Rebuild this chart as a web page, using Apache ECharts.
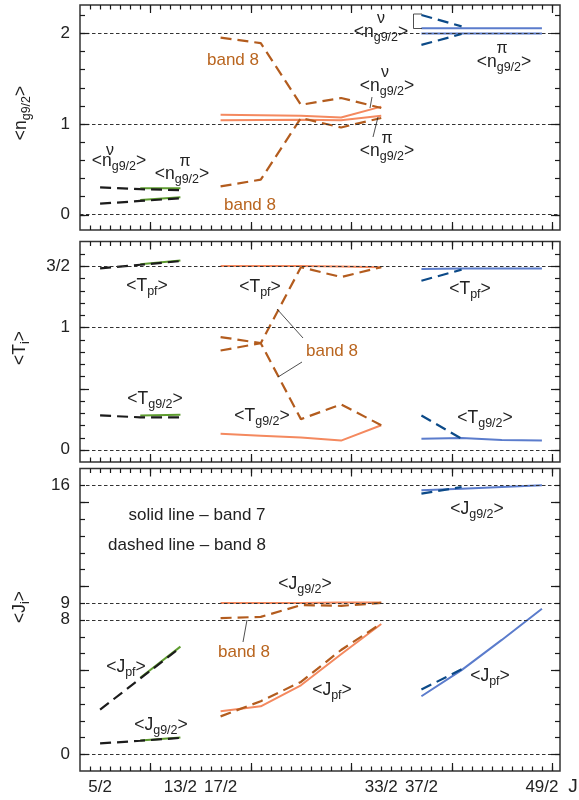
<!DOCTYPE html>
<html>
<head>
<meta charset="utf-8">
<script src="https://cdn.jsdelivr.net/npm/echarts@6/dist/echarts.min.js"></script>
<style>
html, body { margin: 0; padding: 0; background: #fff; }
#chart { width: 579px; height: 800px; }
</style>
</head>
<body>
<div id="chart"></div>
<script>
// spin values J of the three groups of levels
const jvLow = [2.5, 4.5, 6.5];
const jvLow7 = [4.5, 6.5];
const jvMid = [8.5, 10.5, 12.5, 14.5, 16.5];
const jvHigh = [18.5, 20.5, 22.5, 24.5];
const jvHigh8 = [18.5, 20.5];

// <n_g9/2>  (A = nu, B = pi)
const nLowDashA = [0.30, 0.28, 0.27];
const nLowDashB = [0.12, 0.15, 0.18];
const nLowSolidA = [0.29, 0.29];
const nLowSolidB = [0.16, 0.19];
const nMidSolidA = [1.10, 1.095, 1.09, 1.07, 1.19];
const nMidSolidB = [1.04, 1.042, 1.045, 1.04, 1.09];
const nMidDashA = [1.95, 1.89, 1.21, 1.285, 1.175];
const nMidDashB = [0.31, 0.385, 1.065, 0.96, 1.065];
const nHighSolidA = [2.055, 2.055, 2.055, 2.055];
const nHighSolidB = [1.995, 1.995, 1.995, 1.995];
const nHighDashA = [2.20, 2.075];
const nHighDashB = [1.87, 1.99];

// <T_i>
const tLowDashPf = [1.48, 1.51, 1.54];
const tLowDashG = [0.28, 0.265, 0.265];
const tLowSolidPf = [1.515, 1.545];
const tLowSolidG = [0.28, 0.285];
const tMidSolidPf = [1.50, 1.50, 1.50, 1.495, 1.49];
const tMidSolidG = [0.13, 0.115, 0.10, 0.075, 0.20];
const tMidDashPf = [0.81, 0.87, 1.49, 1.41, 1.49];
const tMidDashG = [0.92, 0.87, 0.25, 0.37, 0.20];
const tHighSolidPf = [1.475, 1.48, 1.48, 1.48];
const tHighSolidG = [0.09, 0.095, 0.08, 0.075];
const tHighDashPf = [1.38, 1.47];
const tHighDashG = [0.28, 0.09];

// <J_i>
const jiLowDashPf = [2.65, 4.5, 6.35];
const jiLowDashG = [0.64, 0.8, 0.97];
const jiLowSolidPf = [4.55, 6.4];
const jiLowSolidG = [0.82, 1.0];
const jiMidSolidPf = [2.55, 2.85, 4.1, 5.95, 7.75];
const jiMidSolidG = [9.0, 9.0, 9.0, 9.02, 9.02];
const jiMidDashPf = [2.25, 3.15, 4.3, 6.2, 7.78];
const jiMidDashG = [8.1, 8.17, 8.87, 8.83, 9.0];
const jiHighSolidPf = [3.45, 5.0, 6.8, 8.65];
const jiHighSolidG = [15.7, 15.8, 15.9, 16.0];
const jiHighDashPf = [3.85, 5.05];
const jiHighDashG = [15.5, 15.9];

// dotted reference levels (also the y tick labels)
const refN = [0, 1, 2];
const refT = [0, 1, 1.5];
const refJ = [0, 8, 9, 16];
const xTickJ = [2.5, 6.5, 8.5, 16.5, 18.5, 24.5];

const INK = '#222';
const FONT = 'Liberation Sans, Arial, sans-serif';
const C_GREEN = '#5e9c2f', C_BLACK = '#1c1c1c';
const C_ORANGE = '#f4895f', C_BROWN = '#b35c1e';
const C_BLUE = '#5b7ccc', C_NAVY = '#0c4a88';
const C_BAND8 = '#b9651f';

function steps(a, b, d) {
  const out = [];
  for (let v = a; v <= b + 1e-9; v += d) out.push(Math.round(v * 1000) / 1000);
  return out;
}

const X_MIN = 1.5, X_MAX = 25.4;
const panels = [
  { top: 5, height: 225, min: -0.17, max: 2.31, minor: steps(0, 2.2, 0.2), major: [0, 1, 2], ref: refN },
  { top: 241.5, height: 220.5, min: -0.1, max: 1.7, minor: steps(0, 1.6, 0.1), major: [0, 0.5, 1, 1.5], ref: refT },
  { top: 468.5, height: 302.5, min: -1, max: 17, minor: steps(0, 16, 1), major: [0, 5, 10, 15], ref: refJ }
];
const xMinor = steps(2, 25, 0.5);
const xMajor = [5, 10, 15, 20, 25];

const grids = [], xAxes = [], yAxes = [];
panels.forEach((p, g) => {
  grids.push({ left: 80, width: 480, top: p.top, height: p.height, show: true, borderColor: '#333', borderWidth: 1.5 });
  xAxes.push({
    type: 'value', gridIndex: g, position: 'bottom', min: X_MIN, max: X_MAX,
    axisLine: { show: false, onZero: false }, splitLine: { show: false }, axisTick: { show: false },
    axisLabel: g === 2 ? {
      show: true, customValues: xTickJ, margin: 8, fontSize: 17, color: INK, fontFamily: FONT,
      formatter: v => Math.round(v * 2) + '/2'
    } : { show: false }
  });
  yAxes.push({
    type: 'value', gridIndex: g, position: 'left', min: p.min, max: p.max,
    axisLine: { show: false, onZero: false }, splitLine: { show: false }, axisTick: { show: false },
    axisLabel: {
      show: true, customValues: p.ref, margin: 10, fontSize: 17, color: INK, fontFamily: FONT,
      formatter: v => (v === 1.5 ? '3/2' : String(v))
    }
  });
});

function line(g, xs, ys, color, dashed, ref) {
  const s = {
    type: 'line', xAxisIndex: g, yAxisIndex: g,
    data: xs.map((x, i) => [x, ys[i]]),
    symbol: 'none', silent: true, animation: false,
    lineStyle: { color: color, width: dashed ? 2.2 : 2, type: dashed ? [11, 6] : 'solid', cap: 'butt' }
  };
  if (ref) {
    s.markLine = {
      silent: true, animation: false, symbol: ['none', 'none'], label: { show: false },
      lineStyle: { color: '#333', width: 1, type: [3.5, 2.5] },
      data: ref.map(v => ({ yAxis: v }))
    };
  }
  return s;
}

// inward ticks on the four sides of a panel, drawn by a custom series through the panel's axes
const crisp = v => Math.round(v) + 0.5;
function tickSeries(g) {
  const p = panels[g];
  return {
    type: 'custom', xAxisIndex: g, yAxisIndex: g, silent: true, animation: false, clip: false, z: 5,
    data: [[X_MIN, p.min]],
    renderItem: (params, api) => {
      const lo = api.coord([X_MIN, p.min]), hi = api.coord([X_MAX, p.max]);
      const left = lo[0], bottom = lo[1], right = hi[0], top = hi[1];
      const kids = [];
      const seg = (x1, y1, x2, y2) => kids.push({
        type: 'line', shape: { x1: x1, y1: y1, x2: x2, y2: y2 }, style: { stroke: '#1a1a1a', lineWidth: 1.2 }
      });
      [[xMinor, 4.5], [xMajor, 8]].forEach(([vals, len]) => vals.forEach(v => {
        const px = crisp(api.coord([v, p.min])[0]);
        seg(px, bottom, px, bottom - len);
        seg(px, top, px, top + len);
      }));
      [[p.minor, 5], [p.major, 9]].forEach(([vals, len]) => vals.forEach(v => {
        const py = crisp(api.coord([X_MIN, v])[1]);
        seg(left, py, left + len, py);
        seg(right, py, right - len, py);
      }));
      return { type: 'group', children: kids };
    }
  };
}

const series = [
  tickSeries(0), tickSeries(1), tickSeries(2),
  // <n_g9/2>
  line(0, jvLow7, nLowSolidA, C_GREEN, false, refN),
  line(0, jvLow7, nLowSolidB, C_GREEN, false),
  line(0, jvLow, nLowDashA, C_BLACK, true),
  line(0, jvLow, nLowDashB, C_BLACK, true),
  line(0, jvMid, nMidSolidA, C_ORANGE, false),
  line(0, jvMid, nMidSolidB, C_ORANGE, false),
  line(0, jvMid, nMidDashA, C_BROWN, true),
  line(0, jvMid, nMidDashB, C_BROWN, true),
  line(0, jvHigh, nHighSolidA, C_BLUE, false),
  line(0, jvHigh, nHighSolidB, C_BLUE, false),
  line(0, jvHigh8, nHighDashA, C_NAVY, true),
  line(0, jvHigh8, nHighDashB, C_NAVY, true),
  // <T_i>
  line(1, jvLow7, tLowSolidPf, C_GREEN, false, refT),
  line(1, jvLow7, tLowSolidG, C_GREEN, false),
  line(1, jvLow, tLowDashPf, C_BLACK, true),
  line(1, jvLow, tLowDashG, C_BLACK, true),
  line(1, jvMid, tMidSolidPf, C_ORANGE, false),
  line(1, jvMid, tMidSolidG, C_ORANGE, false),
  line(1, jvMid, tMidDashPf, C_BROWN, true),
  line(1, jvMid, tMidDashG, C_BROWN, true),
  line(1, jvHigh, tHighSolidPf, C_BLUE, false),
  line(1, jvHigh, tHighSolidG, C_BLUE, false),
  line(1, jvHigh8, tHighDashPf, C_NAVY, true),
  line(1, jvHigh8, tHighDashG, C_NAVY, true),
  // <J_i>
  line(2, jvLow7, jiLowSolidPf, C_GREEN, false, refJ),
  line(2, jvLow7, jiLowSolidG, C_GREEN, false),
  line(2, jvLow, jiLowDashPf, C_BLACK, true),
  line(2, jvLow, jiLowDashG, C_BLACK, true),
  line(2, jvMid, jiMidSolidPf, C_ORANGE, false),
  line(2, jvMid, jiMidSolidG, C_ORANGE, false),
  line(2, jvMid, jiMidDashPf, C_BROWN, true),
  line(2, jvMid, jiMidDashG, C_BROWN, true),
  line(2, jvHigh, jiHighSolidPf, C_BLUE, false),
  line(2, jvHigh, jiHighSolidG, C_BLUE, false),
  line(2, jvHigh8, jiHighDashPf, C_NAVY, true),
  line(2, jvHigh8, jiHighDashG, C_NAVY, true)
];

// annotations: [centre x, centre y, main, subscript]
const notes = [
  [119, 161, 'n', 'g9/2'], [182, 174, 'n', 'g9/2'],
  [387, 86, 'n', 'g9/2'], [387, 151, 'n', 'g9/2'],
  [381, 32, 'n', 'g9/2'], [504, 62, 'n', 'g9/2'],
  [147, 286, 'T', 'pf'], [260, 287, 'T', 'pf'], [470, 289, 'T', 'pf'],
  [155, 399, 'T', 'g9/2'], [262, 416, 'T', 'g9/2'], [485, 418, 'T', 'g9/2'],
  [126, 667, 'J', 'pf'], [332, 690, 'J', 'pf'], [490, 676, 'J', 'pf'],
  [161, 725, 'J', 'g9/2'], [305, 584, 'J', 'g9/2'], [477, 509, 'J', 'g9/2']
];
const sups = [
  [110, 151, 'ν'], [185, 162, 'π'], [385, 73, 'ν'], [387, 139, 'π'], [381, 19, 'ν'], [502, 49, 'π']
];
const plain = [
  [233, 60, 'band 8', C_BAND8], [250, 205, 'band 8', C_BAND8],
  [332, 351, 'band 8', C_BAND8], [244, 652, 'band 8', C_BAND8],
  [197, 515, 'solid line – band 7', INK], [187, 545, 'dashed line – band 8', INK],
  [573, 787, 'J', INK]
];
const leaders = [
  [[372, 97], [370, 108]], [[373, 137], [378, 117]],
  [[422, 14], [413.5, 14], [413.5, 28.5], [422, 28.5]],
  [[303, 338], [277, 309]], [[302, 362], [278, 377]],
  [[247, 620], [243, 642]]
];
// rotated axis titles: [x, y, main, sub]
const yTitles = [[21, 113, 'n', 'g9/2'], [20, 348, 'T', 'i'], [20, 607, 'J', 'i']];

const subRich = { s: { fontSize: 12.5, lineHeight: 12, verticalAlign: 'bottom', fontFamily: FONT, fill: INK } };
function richLabel(x, y, main, sub, rot) {
  return {
    type: 'text', x: x, y: y, rotation: rot || 0, z: 100, silent: true,
    style: {
      text: '<' + main + '{s|' + sub + '}>', rich: subRich,
      fontSize: 17.5, lineHeight: 24, fontFamily: FONT, fill: INK, align: 'center', verticalAlign: 'middle'
    }
  };
}

const graphic = [];
notes.forEach(n => graphic.push(richLabel(n[0], n[1], n[2], n[3])));
yTitles.forEach(n => graphic.push(richLabel(n[0], n[1], n[2], n[3], Math.PI / 2)));
sups.forEach(s => graphic.push({
  type: 'text', x: s[0], y: s[1], z: 100, silent: true,
  style: { text: s[2], fontSize: 16, fontFamily: FONT, fill: INK, align: 'center', verticalAlign: 'middle' }
}));
plain.forEach(t => graphic.push({
  type: 'text', x: t[0], y: t[1], z: 100, silent: true,
  style: { text: t[2], fontSize: t[2] === 'J' ? 19 : 17, fontFamily: FONT, fill: t[3], align: 'center', verticalAlign: 'middle' }
}));
leaders.forEach(pts => graphic.push({
  type: 'polyline', z: 100, silent: true,
  shape: { points: pts }, style: { stroke: INK, lineWidth: 0.8, fill: null }
}));

const chart = echarts.init(document.getElementById('chart'), null, { renderer: 'canvas' });
chart.setOption({
  backgroundColor: '#fff',
  animation: false,
  grid: grids,
  xAxis: xAxes,
  yAxis: yAxes,
  series: series,
  graphic: graphic
});
</script>
</body>
</html>
